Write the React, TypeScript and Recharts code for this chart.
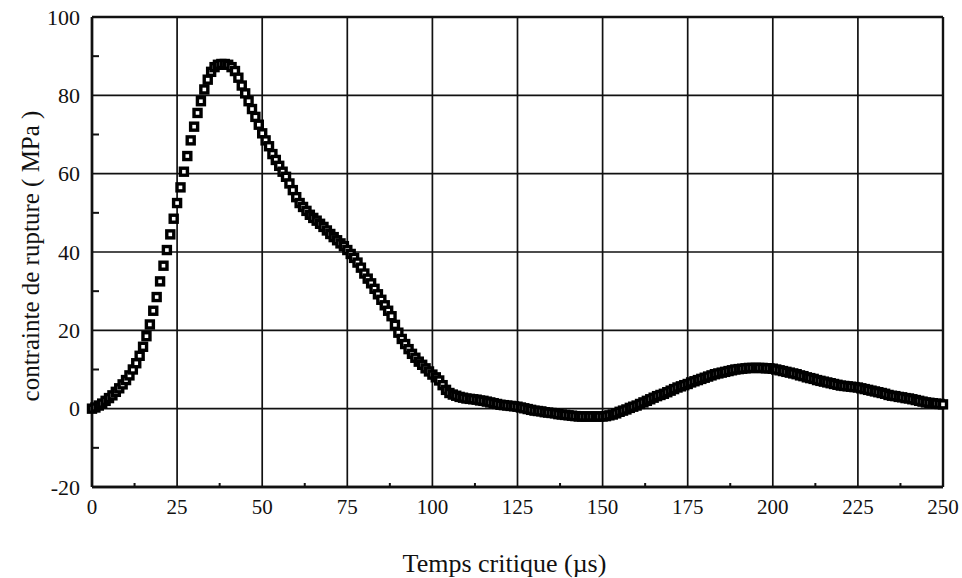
import { ScatterChart, Scatter, XAxis, YAxis, ReferenceLine, Label } from 'recharts';

// Rupture stress (MPa), one reading per microsecond, 0..250 µs
const SAMPLE_STEP_US = 1;
const stressMPa = [
  0, 0.3, 0.8, 1.3, 2, 2.7, 3.4, 4.3, 5.2, 6.2,
  7.3, 8.5, 10, 11.6, 13.5, 15.8, 18.5, 21.5, 25, 28.5,
  32.5, 36.5, 40.5, 44.5, 48.5, 52.5, 56.5, 60.5, 64.5, 68.5,
  72, 75.5, 78.5, 81.5, 84, 86, 87.2, 87.8, 88, 88,
  87.8, 87.2, 86.2, 84.5, 82.5, 80.5, 78.5, 76.5, 74.5, 72.5,
  70.3, 68.5, 67, 65, 63.5, 62, 60.5, 59.2, 57.5, 55.8,
  54, 52.5, 51.5, 50.5, 49.5, 48.7, 48, 47.2, 46.4, 45.5,
  44.6, 43.8, 43, 42.2, 41.5, 40.5, 39.5, 38.5, 37.3, 36,
  34.5, 33.2, 32, 30.6, 29.2, 27.8, 26.4, 25, 23.6, 21.4,
  19.4, 17.8, 16.5, 15.2, 14, 13, 12, 11.2, 10.3, 9.5,
  8.7, 8, 7.2, 6, 4.8, 4, 3.6, 3.3, 3, 2.8,
  2.6, 2.5, 2.4, 2.3, 2.1, 2, 1.8, 1.6, 1.4, 1.2,
  1, 0.9, 0.8, 0.7, 0.6, 0.5, 0.3, 0.1, -0.1, -0.3,
  -0.5, -0.6, -0.7, -0.9, -1, -1.1, -1.2, -1.4, -1.5, -1.6,
  -1.7, -1.8, -1.9, -2, -2, -2, -2, -2, -2, -2,
  -2, -1.9, -1.7, -1.5, -1.2, -0.8, -0.5, -0.2, 0.2, 0.5,
  0.8, 1.2, 1.6, 2, 2.4, 2.8, 3.2, 3.5, 3.8, 4.2,
  4.6, 5, 5.4, 5.7, 6, 6.3, 6.7, 7, 7.3, 7.6,
  7.9, 8.2, 8.5, 8.8, 9, 9.2, 9.4, 9.6, 9.8, 10,
  10.1, 10.2, 10.3, 10.4, 10.4, 10.4, 10.4, 10.4, 10.3, 10.3,
  10.2, 10, 9.8, 9.6, 9.4, 9.2, 9, 8.8, 8.5, 8.3,
  8, 7.8, 7.6, 7.3, 7.1, 6.9, 6.7, 6.5, 6.3, 6.1,
  5.9, 5.8, 5.7, 5.6, 5.5, 5.4, 5.2, 5, 4.8, 4.6,
  4.4, 4.2, 4, 3.8, 3.5, 3.3, 3.2, 3, 2.9, 2.7,
  2.6, 2.4, 2.2, 2, 1.8, 1.6, 1.5, 1.4, 1.3, 1.2,
  1.1,
];

const xMajorTicks = [0, 25, 50, 75, 100, 125, 150, 175, 200, 225, 250];
const xMinorTicks = [12.5, 37.5, 62.5, 87.5, 112.5, 137.5, 162.5, 187.5, 212.5, 237.5];
const yMajorTicks = [-20, 0, 20, 40, 60, 80, 100];
const yMinorTicks = [-10, 10, 30, 50, 70, 90];

const data = stressMPa.map((v, i) => ({ t: i * SAMPLE_STEP_US, v }));

const FONT = '"Liberation Serif", "DejaVu Serif", serif';
const TICK_SIZE = 6;
const TICK_MARGIN = 6;

function XTick(props: any) {
  const { x, y, payload } = props;
  const value = payload.value as number;
  if (xMinorTicks.includes(value)) {
    const axisY = y - TICK_SIZE - TICK_MARGIN;
    return <line x1={x} x2={x} y1={axisY} y2={axisY - 4} stroke="#111" strokeWidth={2} />;
  }
  return (
    <text x={x} y={y} dy="0.71em" textAnchor="middle" fontFamily={FONT} fontSize={21} fill="#111">
      {value}
    </text>
  );
}

function YTick(props: any) {
  const { x, y, payload } = props;
  const value = payload.value as number;
  if (yMinorTicks.includes(value)) {
    const axisX = x + TICK_SIZE + TICK_MARGIN;
    return <line x1={axisX} x2={axisX + 7} y1={y} y2={y} stroke="#111" strokeWidth={2} />;
  }
  return (
    <text x={x} y={y} dy="0.35em" textAnchor="end" fontFamily={FONT} fontSize={22} fill="#111">
      {value}
    </text>
  );
}

function Marker(props: any) {
  const { cx, cy } = props;
  return <rect x={cx - 3.5} y={cy - 3.5} width={7} height={7} fill="#fff" stroke="#000" strokeWidth={3.4} />;
}

export default function App() {
  return (
    // absolute so the page never grows past the window (no scrollbar)
    <div style={{ position: 'absolute', left: 8, top: 8, width: 954, height: 570, background: '#fff' }}>
      <style>{'.recharts-surface { overflow: visible; }'}</style>
      <ScatterChart width={954} height={570} margin={{ top: 9, right: 19, left: 0, bottom: 61 }}>
        {yMajorTicks.map((v) => (
          <ReferenceLine
            key={`h${v}`}
            y={v}
            stroke="#111"
            strokeWidth={v === -20 || v === 100 ? 2.4 : 1.7}
          />
        ))}
        {xMajorTicks.map((v) => (
          <ReferenceLine
            key={`v${v}`}
            x={v}
            stroke="#111"
            strokeWidth={v === 0 || v === 250 ? 2.4 : 1.7}
          />
        ))}
        <XAxis
          type="number"
          dataKey="t"
          domain={[0, 250]}
          ticks={[...xMajorTicks, ...xMinorTicks].sort((a, b) => a - b)}
          interval={0}
          height={30}
          tickSize={TICK_SIZE}
          tickMargin={TICK_MARGIN}
          tickLine={false}
          axisLine={{ stroke: '#111', strokeWidth: 2.4 }}
          tick={<XTick />}
        >
          <Label
            content={(p: any) => {
              const vb = p.viewBox;
              return (
                <text
                  x={vb.x + vb.width / 2 - 13}
                  y={vb.y + vb.height + 55}
                  textAnchor="middle"
                  fontFamily={FONT}
                  fontSize={26}
                  fill="#111"
                >
                  Temps critique (µs)
                </text>
              );
            }}
          />
        </XAxis>
        <YAxis
          type="number"
          dataKey="v"
          domain={[-20, 100]}
          ticks={[...yMajorTicks, ...yMinorTicks].sort((a, b) => a - b)}
          interval={0}
          width={84}
          tickSize={TICK_SIZE}
          tickMargin={TICK_MARGIN}
          tickLine={false}
          axisLine={{ stroke: '#111', strokeWidth: 2.4 }}
          tick={<YTick />}
        >
          <Label
            content={(p: any) => {
              const vb = p.viewBox;
              const cx = vb.x + 22;
              const cy = vb.y + vb.height / 2 + 4;
              return (
                <text
                  x={cx}
                  y={cy}
                  transform={`rotate(-90, ${cx}, ${cy})`}
                  textAnchor="middle"
                  dominantBaseline="central"
                  fontFamily={FONT}
                  fontSize={25}
                  fill="#111"
                >
                  contrainte de rupture ( MPa )
                </text>
              );
            }}
          />
        </YAxis>
        <Scatter data={data} shape={<Marker />} isAnimationActive={false} />
      </ScatterChart>
    </div>
  );
}
